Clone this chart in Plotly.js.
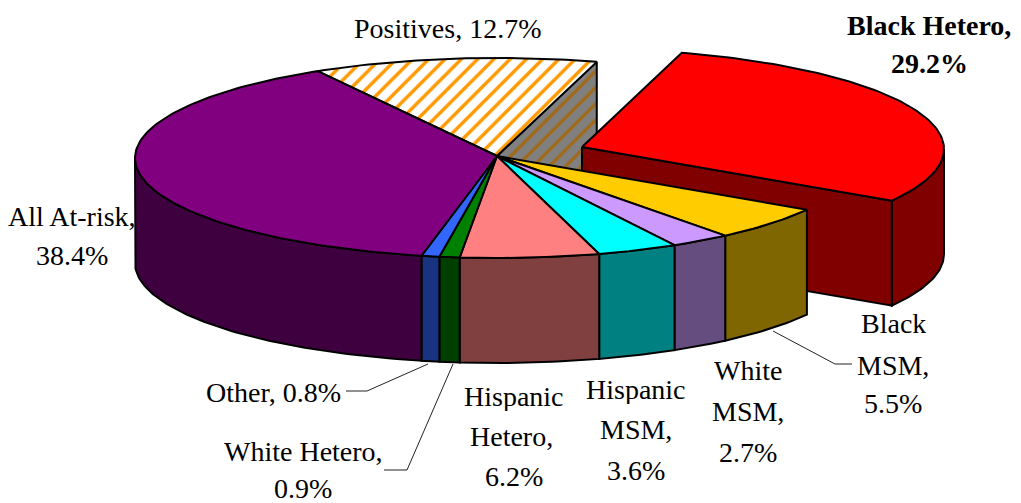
<!DOCTYPE html>
<html>
<head>
<meta charset="utf-8">
<script src="https://cdn.plot.ly/plotly-3.0.1.min.js"></script>
<style>html,body{margin:0;padding:0;background:#fff}#chart{width:1021px;height:503px}</style>
</head>
<body>
<div id="chart"></div>
<script>
// Data, in the clockwise order of the pie
const categories = ["Black Hetero","Black MSM","White MSM","Hispanic MSM","Hispanic Hetero","White Hetero","Other","All At-risk","Positives"];
const shares     = [29.2,5.5,2.7,3.6,6.2,0.9,0.8,38.4,12.7];
const topColors  = ["#ff0000","#ffcc00","#cc99ff","#00ffff","#ff8080","#008000","#3366ff","#800080","#ffffff"];
const wallColors = ["#800000","#806600","#664d80","#008080","#804040","#003f00","#1a3380","#3f003f","#808080"];

// Pie geometry in pixel-like axis units
const cx = 497, cy = 158, rx = 362, ry = 100, depth = 105, firstAngle = 16;
const explodedDx = 85, explodedDy = -9;

const total = shares.reduce((a,b)=>a+b,0);
const bounds = []; let running = firstAngle;
shares.forEach(v=>{ bounds.push([running, running + 360*v/total]); running += 360*v/total; });

function pt(t, ox, oy, dz){
  const r = t*Math.PI/180;
  return [cx+ox+rx*Math.sin(r), cy+oy-ry*Math.cos(r)+dz];
}
function arc(a,b,ox,oy,dz){
  const out=[], n=Math.max(2,Math.ceil(Math.abs(b-a)));
  for(let i=0;i<=n;i++) out.push(pt(a+(b-a)*i/n,ox,oy,dz));
  return out;
}
function poly(points, color, pattern){
  const closed = points.concat([points[0]]);
  const tr = {type:"scatter",mode:"lines",fill:"toself",fillcolor:color,
    x:closed.map(p=>p[0]),y:closed.map(p=>p[1]),
    line:{color:"#000",width:2},hoverinfo:"skip",showlegend:false};
  if(pattern) tr.fillpattern = pattern;
  return tr;
}
const traces = [];
const POS = categories.indexOf("Positives"), BH = categories.indexOf("Black Hetero");

// Positives: the radial cut face, then the hatched top
const posEnd = pt(bounds[POS][1],0,0,0);
const ax = cx, ay = 156;
traces.push(poly([[ax,ay],posEnd,[posEnd[0],posEnd[1]+depth],[ax,ay+depth]],wallColors[POS],
  {shape:"/",size:11.5,solidity:0.3,fgcolor:"#a06a1c",bgcolor:wallColors[POS],fillmode:"replace"}));
traces.push(poly([[ax,ay]].concat(arc(bounds[POS][0],bounds[POS][1],0,0,0)),topColors[POS],
  {shape:"/",size:11.5,solidity:0.3,fgcolor:"#ff9900",bgcolor:"#ffffff",fillmode:"replace"}));

// Black Hetero: exploded wedge
const bhA = [ax+explodedDx, ay+explodedDy];
const bhEnd = pt(bounds[BH][1],explodedDx,explodedDy,0);
traces.push(poly([bhA,bhEnd,[bhEnd[0],bhEnd[1]+depth],[bhA[0],bhA[1]+depth]],wallColors[BH]));
const bhWall = arc(90,bounds[BH][1],explodedDx,explodedDy,0).concat(arc(bounds[BH][1],90,explodedDx,explodedDy,depth));
traces.push(poly(bhWall,wallColors[BH]));
traces.push(poly([bhA].concat(arc(bounds[BH][0],bounds[BH][1],explodedDx,explodedDy,0)),topColors[BH]));

// Remaining slices: outer walls (front half only), then tops
categories.forEach((c,i)=>{
  if(i===POS||i===BH) return;
  const a=Math.max(bounds[i][0],90), b=Math.min(bounds[i][1],270);
  if(b>a) traces.push(poly(arc(a,b,0,0,0).concat(arc(b,a,0,0,depth)),wallColors[i]));
});
categories.forEach((c,i)=>{
  if(i===POS||i===BH) return;
  traces.push(poly([[ax,ay]].concat(arc(bounds[i][0],bounds[i][1],0,0,0)),topColors[i]));
});

// Labels, one entry per printed line
const labelText = ["Positives, 12.7%","Black Hetero,","29.2%","All At-risk,","38.4%","Black","MSM,","5.5%","White","MSM,","2.7%","Hispanic","MSM,","3.6%","Hispanic","Hetero,","6.2%","Other, 0.8%","White Hetero,","0.9%"];
const labelX = [447,929,929,72,72,893,893,893,748,748,748,636,636,636,514,511,514,273,303,303];
const labelY = [28,25,63,216,255,323,365,403,370,411,452,389,429,470,396,436,476,392,451,488];
const labelBold = [1,2];
const annotations = labelText.map((t,i)=>({
  x:labelX[i],y:labelY[i],xref:"x",yref:"y",showarrow:false,xanchor:"center",yanchor:"middle",
  height:30,
  text:labelBold.includes(i)?"<b>"+t+"</b>":t,
  font:{family:"'Liberation Serif','Times New Roman',serif",size:28,color:"#000"}
}));

// Leader lines
const leaderX = [[346,367,428],[384,407,453],[773,835,852]];
const leaderY = [[391,391,364],[470,470,364],[331,364,364]];
leaderX.forEach((xs,i)=>traces.push({type:"scatter",mode:"lines",x:xs,y:leaderY[i],
  line:{color:"#222",width:1},hoverinfo:"skip",showlegend:false}));

Plotly.newPlot("chart",traces,{
  width:1021,height:503,margin:{l:0,r:0,t:0,b:0},
  paper_bgcolor:"#fff",plot_bgcolor:"#fff",showlegend:false,
  xaxis:{range:[0,1021],visible:false,fixedrange:true},
  yaxis:{range:[503,0],visible:false,fixedrange:true},
  annotations
},{displayModeBar:false,staticPlot:true});
</script>
</body>
</html>
